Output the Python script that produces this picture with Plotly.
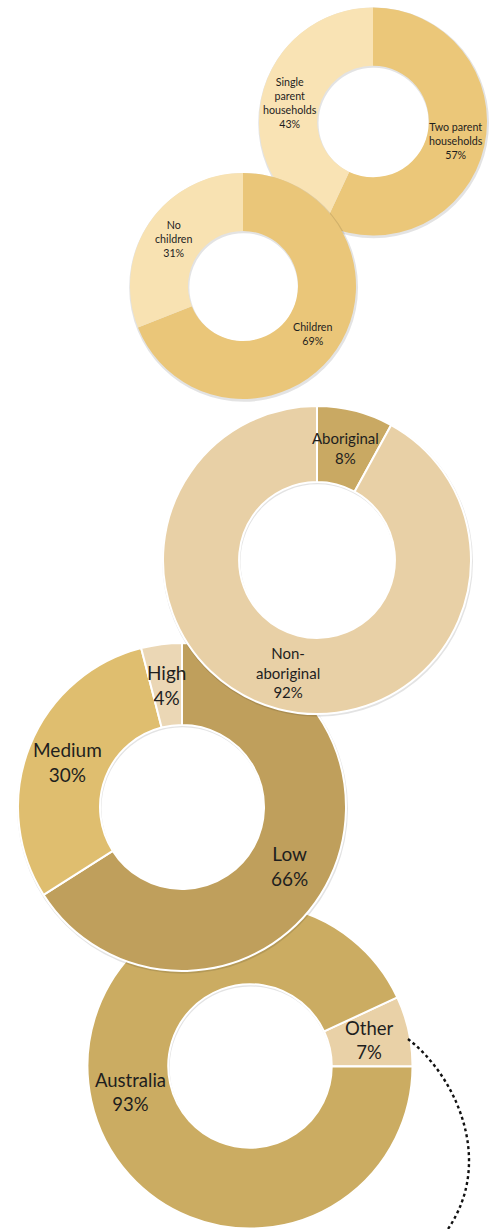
import math
import plotly.graph_objects as go

W, H = 490, 1229

# ---------------- data ----------------
household_labels = ["Two parent<br>households", "Single<br>parent<br>households"]
household_values = [57, 43]

children_labels = ["Children", "No<br>children"]
children_values = [69, 31]

indigenous_labels = ["Aboriginal", "Non-<br>aboriginal"]
indigenous_values = [8, 92]

income_labels = ["Low", "Medium", "High"]
income_values = [66, 30, 4]

birth_labels = ["Other", "Australia"]
birth_values = [7, 93]

# ---------------- styles / geometry ----------------
donuts = {
    "household": dict(labels=household_labels, values=household_values,
                      cx=373, cy=121.5, r=114, hole=0.49, rotation=0,
                      colors=["#EBC779", "#F9E3B4"], font=10.7, line=0),
    "children": dict(labels=children_labels, values=children_values,
                     cx=243, cy=286, r=113, hole=0.487, rotation=0,
                     colors=["#EAC679", "#F8E2B2"], font=10.7, line=0),
    "indigenous": dict(labels=indigenous_labels, values=indigenous_values,
                       cx=317, cy=560, r=154, hole=0.506, rotation=0,
                       colors=["#C9A963", "#E8D0A6"], font=15, line=2),
    "income": dict(labels=income_labels, values=income_values,
                   cx=182, cy=807, r=164, hole=0.5, rotation=0,
                   colors=["#BF9F5C", "#DFBE6F", "#EBD7B5"], font=19, line=2),
    "birth": dict(labels=birth_labels, values=birth_values,
                  cx=250, cy=1066, r=162.5, hole=0.503, rotation=65,
                  colors=["#E9D1A7", "#CBAC62"], font=18.5, line=2),
}
draw_order = ["household", "children", "birth", "income", "indigenous"]


def clamp(v):
    return max(0.0, min(1.0, v))


def domain_for(cx, cy, r):
    return dict(x=[clamp((cx - r) / W), clamp((cx + r) / W)],
                y=[clamp(1 - (cy + r) / H), clamp(1 - (cy - r) / H)])


fig = go.Figure()
annotations = []

for key in draw_order:
    d = donuts[key]
    # soft drop shadow ring
    sdx, sdy, grow = 0.6, 1.4, 1.4
    scx, scy = d["cx"] + sdx, d["cy"] + sdy
    sr = min(d["r"] + grow, scx, W - scx, scy, H - scy)
    shole = max(0.0, (d["r"] * d["hole"] - 0.8) / sr)
    fig.add_trace(go.Pie(
        values=[1], hole=shole, sort=False, textinfo="none", hoverinfo="skip",
        marker=dict(colors=["rgba(0,0,0,0.11)"], line=dict(width=0)),
        domain=domain_for(scx, scy, sr), showlegend=False))
    # the donut itself
    fig.add_trace(go.Pie(
        labels=d["labels"], values=d["values"], hole=d["hole"], sort=False,
        direction="clockwise", rotation=d["rotation"], textinfo="none",
        hoverinfo="label+percent",
        marker=dict(colors=d["colors"], line=dict(color="white", width=d["line"])),
        domain=domain_for(d["cx"], d["cy"], d["r"]), showlegend=False))
    # data labels at mid ring radius / mid slice angle
    total = sum(d["values"])
    rm = d["r"] * (1 + d["hole"]) / 2
    cum = 0
    for lab, v in zip(d["labels"], d["values"]):
        mid = math.radians(d["rotation"] + 360 * (cum + v / 2) / total)
        cum += v
        px = d["cx"] + rm * math.sin(mid)
        py = d["cy"] - rm * math.cos(mid)
        annotations.append(dict(
            x=px / W, y=1 - py / H, xref="paper", yref="paper",
            text=f"{lab}<br>{round(100 * v / total)}%", showarrow=False,
            xanchor="center", yanchor="middle", align="center",
            font=dict(family="Lato", size=d["font"], color="#1E1E1E")))


def P(x, y):
    return f"{x / W:.5f},{1 - y / H:.5f}"


fig.update_layout(
    width=W, height=H, autosize=False,
    margin=dict(l=0, r=0, t=0, b=0),
    paper_bgcolor="white", plot_bgcolor="white",
    showlegend=False,
    annotations=annotations,
    shapes=[dict(type="path", xref="paper", yref="paper",
                 path=f"M {P(408, 1039)} C {P(455, 1075)} {P(495, 1160)} {P(448, 1229)}",
                 line=dict(color="#111111", width=2.4, dash="dot"))],
)

fig.write_html("out.html", config=dict(displayModeBar=False),
               post_script="document.body.style.margin='0';document.body.style.overflow='hidden';")
